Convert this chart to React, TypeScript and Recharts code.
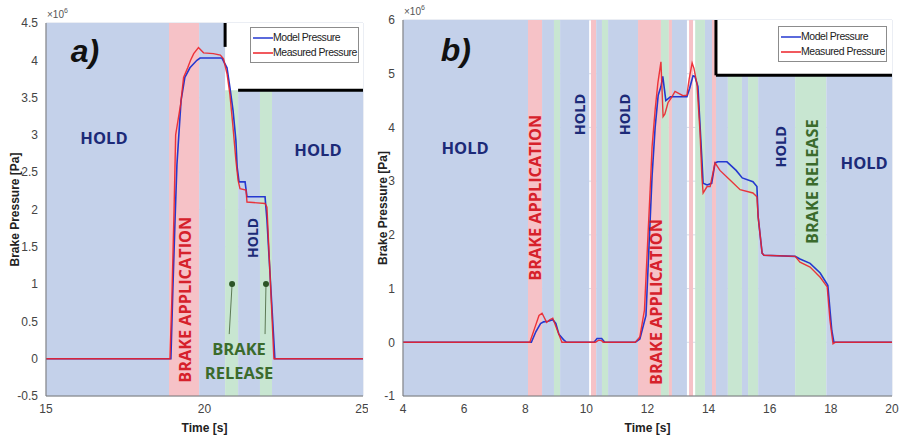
import React from 'react';
import {
  ComposedChart,
  Line,
  XAxis,
  YAxis,
  CartesianGrid,
  ReferenceArea,
  ReferenceLine,
  ReferenceDot,
  Legend,
} from 'recharts';

// panel a) pressure traces, values in 10^6 Pa
const modelATime = [15, 18.94, 19.0, 19.07, 19.13, 19.26, 19.38, 19.54, 19.76, 19.86, 20.55, 20.71, 20.8, 20.9, 20.99, 21.03, 21.09, 21.28, 21.34, 21.91, 21.97, 22.22, 25];
const modelAPressure = [0, 0, 0.9, 1.85, 2.6, 3.46, 3.77, 3.9, 4.0, 4.03, 4.03, 3.9, 3.64, 3.33, 2.93, 2.57, 2.37, 2.37, 2.17, 2.17, 1.86, 0, 0];
const measuredATime = [15, 18.91, 18.97, 19.04, 19.09, 19.25, 19.34, 19.47, 19.56, 19.66, 19.81, 19.97, 20.28, 20.5, 20.6, 20.71, 20.8, 20.9, 20.99, 21.06, 21.12, 21.31, 21.34, 21.91, 21.97, 22.19, 25];
const measuredAPressure = [0, 0, 0.8, 2.0, 3.0, 3.42, 3.77, 3.9, 4.0, 4.09, 4.17, 4.1, 4.09, 4.07, 4.02, 3.82, 3.55, 3.1, 2.66, 2.39, 2.28, 2.26, 2.1, 2.08, 2.03, 0, 0];

// panel b)
const modelBTime = [4, 8.2, 8.35, 8.5, 8.6, 8.75, 8.9, 9.0, 9.1, 9.25, 9.35, 10.25, 10.35, 10.5, 10.6, 11.6, 11.75, 11.95, 12.05, 12.15, 12.25, 12.35, 12.44, 12.5, 12.6, 12.75, 13.29, 13.38, 13.49, 13.55, 13.65, 13.78, 13.82, 13.95, 14.1, 14.21, 14.3, 14.6, 14.9, 15.1, 15.45, 15.58, 15.62, 15.75, 15.81, 16.83, 16.99, 17.32, 17.65, 17.9, 18.03, 18.1, 20];
const modelBPressure = [0, 0, 0.2, 0.35, 0.38, 0.39, 0.42, 0.35, 0.15, 0.05, 0, 0, 0.07, 0.07, 0, 0, 0.06, 0.5, 1.8, 3.1, 4.0, 4.6, 4.76, 4.95, 4.5, 4.57, 4.57, 4.73, 4.96, 4.95, 4.76, 3.4, 2.96, 2.93, 2.96, 3.34, 3.36, 3.36, 3.2, 3.06, 2.99, 2.9, 2.34, 1.66, 1.62, 1.6, 1.55, 1.47, 1.29, 1.06, 0.22, 0, 0];
const measuredBTime = [4, 8.15, 8.3, 8.45, 8.55, 8.7, 8.8, 8.9, 9.0, 9.2, 10.3, 10.4, 10.5, 10.55, 11.6, 11.75, 11.9, 12.0, 12.1, 12.15, 12.25, 12.34, 12.44, 12.51, 12.57, 12.67, 12.8, 12.9, 13.16, 13.29, 13.36, 13.46, 13.52, 13.62, 13.72, 13.78, 13.82, 13.95, 14.05, 14.21, 14.37, 14.7, 15.03, 15.45, 15.58, 15.62, 15.75, 15.81, 16.83, 16.99, 17.32, 17.65, 17.88, 17.97, 18.07, 18.15, 20];
const measuredBPressure = [0, 0, 0.25, 0.5, 0.54, 0.37, 0.42, 0.45, 0.3, 0, 0, 0.04, 0.03, 0, 0, 0.1, 0.6, 1.8, 3.0, 3.64, 4.33, 4.83, 5.22, 4.2, 4.25, 4.46, 4.57, 4.67, 4.59, 4.6, 4.89, 5.2, 5.1, 4.8, 3.9, 3.08, 2.78, 2.9, 2.9, 3.34, 3.2, 3.02, 2.84, 2.78, 2.71, 2.34, 1.66, 1.62, 1.6, 1.49, 1.4, 1.21, 1.03, 0.41, -0.03, 0, 0];

// axis ticks
const xTicksA = [15, 20, 25];
const yTicksA = [-0.5, 0, 0.5, 1, 1.5, 2, 2.5, 3, 3.5, 4, 4.5];
const xTicksB = [4, 6, 8, 10, 12, 14, 16, 18, 20];
const yTicksB = [-1, 0, 1, 2, 3, 4, 5, 6];

// valve phases: [start, end, phase]
const phasesA: [number, number, string][] = [
  [15, 18.88, 'hold'], [18.88, 19.83, 'apply'], [19.83, 20.65, 'hold'], [20.65, 21.06, 'release'],
  [21.06, 21.75, 'hold'], [21.75, 22.13, 'release'], [22.13, 25, 'hold'],
];
const phasesB: [number, number, string][] = [
  [4, 8.09, 'hold'], [8.09, 8.55, 'apply'], [8.55, 8.94, 'hold'], [8.94, 9.14, 'release'],
  [9.14, 10.09, 'hold'], [10.15, 10.32, 'apply'], [10.32, 10.51, 'hold'], [10.51, 10.71, 'release'],
  [10.71, 11.69, 'hold'], [11.69, 12.44, 'apply'], [12.44, 12.7, 'release'], [12.7, 12.8, 'apply'],
  [12.8, 13.29, 'hold'], [13.36, 13.49, 'apply'], [13.56, 13.88, 'release'], [13.88, 14.11, 'hold'],
  [14.11, 14.24, 'apply'], [14.24, 14.63, 'hold'], [14.63, 15.09, 'release'], [15.09, 15.29, 'hold'],
  [15.29, 15.62, 'release'], [15.62, 16.83, 'hold'], [16.83, 17.85, 'release'], [17.85, 20, 'hold'],
];

// text annotations: [t, p, text, phase, angle, size]
const notesA: [number, number, string, string, number, number][] = [
  [16.83, 2.95, 'HOLD', 'hold', 0, 16.5],
  [23.58, 2.79, 'HOLD', 'hold', 0, 16.5],
  [19.38, 0.79, 'BRAKE APPLICATION', 'apply', -90, 16.3],
  [21.53, 1.62, 'HOLD', 'hold', -90, 14],
  [21.09, 0.13, 'BRAKE', 'release', 0, 16.5],
  [21.09, -0.19, 'RELEASE', 'release', 0, 16.5],
];
const notesB: [number, number, string, string, number, number][] = [
  [6.03, 3.62, 'HOLD', 'hold', 0, 16.5],
  [8.32, 2.69, 'BRAKE APPLICATION', 'apply', -90, 16.3],
  [9.79, 4.24, 'HOLD', 'hold', -90, 14.5],
  [11.26, 4.24, 'HOLD', 'hold', -90, 14.5],
  [12.28, 0.75, 'BRAKE APPLICATION', 'apply', -90, 16.3],
  [16.37, 3.64, 'HOLD', 'hold', -90, 14.5],
  [17.38, 2.99, 'BRAKE RELEASE', 'release', -90, 16.3],
  [19.09, 3.34, 'HOLD', 'hold', 0, 16.5],
];

// release markers in a): [dotT, dotP, tailT, tailP]
const pointersA = [
  [20.87, 1.0, 20.78, 0.33],
  [21.94, 1.0, 21.91, 0.33],
];

const bandFill: Record<string, string> = { hold: '#c4d1ea', apply: '#f6c2c7', release: '#c8e6d1' };
const textFill: Record<string, string> = { hold: '#1c2a78', apply: '#d6212b', release: '#3b6b2c' };

const MODEL = '#2438d0';
const MEASURED = '#ec2229';
const tickFont = 'Liberation Sans, Arial, sans-serif';
const noteFont = 'Open Sans, Liberation Sans, sans-serif';

const zip = (t: number[], p: number[]) => t.map((x, i) => ({ t: x, p: p[i] }));

const LegendBox = () => (
  <div
    style={{
      background: '#fff',
      border: '1px solid #8c8c8c',
      padding: '2px 2px 2px 2px',
      fontFamily: tickFont,
      fontSize: 10.5,
      letterSpacing: '-0.45px',
      color: '#222',
      lineHeight: '15px',
      whiteSpace: 'nowrap',
      boxSizing: 'border-box',
      width: 109,
      overflow: 'hidden',
    }}
  >
    {[
      { name: 'Model Pressure', color: MODEL },
      { name: 'Measured Pressure', color: MEASURED },
    ].map(s => (
      <div key={s.name} style={{ display: 'flex', alignItems: 'center' }}>
        <svg width={20} height={10} style={{ flex: 'none' }}>
          <line x1={0} x2={20} y1={5} y2={5} stroke={s.color} strokeWidth={1.5} />
        </svg>
        <span>{s.name}</span>
      </div>
    ))}
  </div>
);

const axisTitle = (props: any) => {
  const { x, y, width, height } = props.viewBox;
  return (
    <g>
      <text
        transform={`translate(${x + 15},${y + height / 2}) rotate(-90)`}
        textAnchor="middle"
        dominantBaseline="central"
        fontSize={12}
        fontWeight={700}
        fill="#222"
        fontFamily={tickFont}
      >
        Brake Pressure [Pa]
      </text>
      <text x={x + width + 1} y={y - 5} fontSize={10} fill="#555" fontFamily={tickFont}>
        ×10<tspan dy={-5} fontSize={7}>6</tspan>
      </text>
    </g>
  );
};

interface PanelProps {
  width: number;
  left: number;
  top: number;
  yAxisWidth: number;
  rightMargin: number;
  xDomain: [number, number];
  yDomain: [number, number];
  xTicks: number[];
  yTicks: number[];
  phases: [number, number, string][];
  notes: [number, number, string, string, number, number][];
  model: { t: number; p: number }[];
  measured: { t: number; p: number }[];
  blank: { x1: number; y1: number };
  ledgeStart: number;
  borderStart: number;
  tag: string;
  tagAt: [number, number];
  legendPos: { left: number; top: number };
  pointers?: number[][];
}

const Panel: React.FC<PanelProps> = p => {
  const [, xMax] = p.xDomain;
  const [yMin, yMax] = p.yDomain;
  return (
    <div style={{ position: 'absolute', left: p.left, top: 0 }}>
      <ComposedChart
        width={p.width}
        height={440}
        margin={{ top: p.top, right: p.rightMargin, left: 0, bottom: 8 }}
      >
        {p.phases.map(([a, b, kind], i) => (
          <ReferenceArea key={`ph${i}`} x1={a} x2={b} y1={yMin} y2={yMax} fill={bandFill[kind]} fillOpacity={1} stroke="none" ifOverflow="hidden" />
        ))}
        <CartesianGrid stroke="#7c8db3" strokeOpacity={0.3} />
        <ReferenceArea x1={p.blank.x1} x2={xMax} y1={p.blank.y1} y2={yMax} fill="#ffffff" fillOpacity={1} stroke="none" />
        <ReferenceLine segment={[{ x: p.blank.x1, y: yMax }, { x: p.blank.x1, y: p.borderStart }]} stroke="#000" strokeWidth={3} />
        <ReferenceLine segment={[{ x: p.ledgeStart, y: p.blank.y1 }, { x: xMax, y: p.blank.y1 }]} stroke="#000" strokeWidth={3} />
        <XAxis
          type="number"
          dataKey="t"
          domain={p.xDomain}
          ticks={p.xTicks}
          allowDataOverflow
          height={36}
          tickLine={false}
          axisLine={{ stroke: '#777' }}
          tick={{ fontSize: 12, fill: '#444', fontFamily: tickFont }}
          label={{ value: 'Time [s]', position: 'insideBottom', offset: 0, fontSize: 12, fontWeight: 700, fill: '#222', fontFamily: tickFont }}
        />
        <YAxis
          type="number"
          domain={p.yDomain}
          ticks={p.yTicks}
          allowDataOverflow
          width={p.yAxisWidth}
          tickLine={false}
          axisLine={{ stroke: '#777' }}
          tick={{ fontSize: 12, fill: '#444', fontFamily: tickFont }}
          tickFormatter={(v: number) => String(v)}
          label={axisTitle}
        />
        {(p.pointers || []).map(([dt, dp, tt, tp], i) => (
          <ReferenceLine key={`pl${i}`} segment={[{ x: dt, y: dp }, { x: tt, y: tp }]} stroke="#5d7a55" strokeWidth={1} />
        ))}
        {(p.pointers || []).map(([dt, dp], i) => (
          <ReferenceDot key={`pd${i}`} x={dt} y={dp} r={3} fill="#2c5526" stroke="none" />
        ))}
        {p.notes.map(([t, v, text, kind, angle, size], i) => (
          <ReferenceDot
            key={`n${i}`}
            x={t}
            y={v}
            r={0}
            fill="none"
            stroke="none"
            label={{
              value: text,
              position: 'center',
              angle,
              fill: textFill[kind],
              fontSize: size,
              fontWeight: 700,
              fontFamily: noteFont,
            }}
          />
        ))}
        <ReferenceDot
          x={p.tagAt[0]}
          y={p.tagAt[1]}
          r={0}
          fill="none"
          stroke="none"
          label={{ value: p.tag, position: 'center', fill: '#111', fontSize: 32, fontWeight: 900, fontStyle: 'italic', fontFamily: tickFont }}
        />
        <Line data={p.model} dataKey="p" name="Model Pressure" type="linear" stroke={MODEL} strokeWidth={1.6} dot={false} isAnimationActive={false} />
        <Line data={p.measured} dataKey="p" name="Measured Pressure" type="linear" stroke={MEASURED} strokeWidth={1.4} strokeOpacity={0.9} dot={false} isAnimationActive={false} />
        <Legend
          layout="vertical"
          align="center"
          verticalAlign="middle"
          content={() => <LegendBox />}
          wrapperStyle={{ position: 'absolute', left: p.legendPos.left, top: p.legendPos.top, width: 109 }}
        />
      </ComposedChart>
    </div>
  );
};

export default function App() {
  return (
    <div style={{ position: 'absolute', left: 0, top: 0, width: 899, height: 440, background: '#fff', overflow: 'hidden' }}>
      <Panel
        width={368}
        left={0}
        top={23}
        yAxisWidth={46}
        rightMargin={5}
        xDomain={[15, 25]}
        yDomain={[-0.5, 4.5]}
        xTicks={xTicksA}
        yTicks={yTicksA}
        phases={phasesA}
        notes={notesA}
        model={zip(modelATime, modelAPressure)}
        measured={zip(measuredATime, measuredAPressure)}
        blank={{ x1: 20.65, y1: 3.6 }}
        ledgeStart={21.06}
        borderStart={4.18}
        tag="a)"
        tagAt={[16.23, 4.13]}
        legendPos={{ left: 250, top: 27 }}
        pointers={pointersA}
      />
      <Panel
        width={531}
        left={368}
        top={20}
        yAxisWidth={35}
        rightMargin={7}
        xDomain={[4, 20]}
        yDomain={[-1, 6]}
        xTicks={xTicksB}
        yTicks={yTicksB}
        phases={phasesB}
        notes={notesB}
        model={zip(modelBTime, modelBPressure)}
        measured={zip(measuredBTime, measuredBPressure)}
        blank={{ x1: 14.24, y1: 4.97 }}
        ledgeStart={14.24}
        borderStart={4.97}
        tag="b)"
        tagAt={[5.73, 5.45]}
        legendPos={{ left: 410, top: 26 }}
      />
    </div>
  );
}
